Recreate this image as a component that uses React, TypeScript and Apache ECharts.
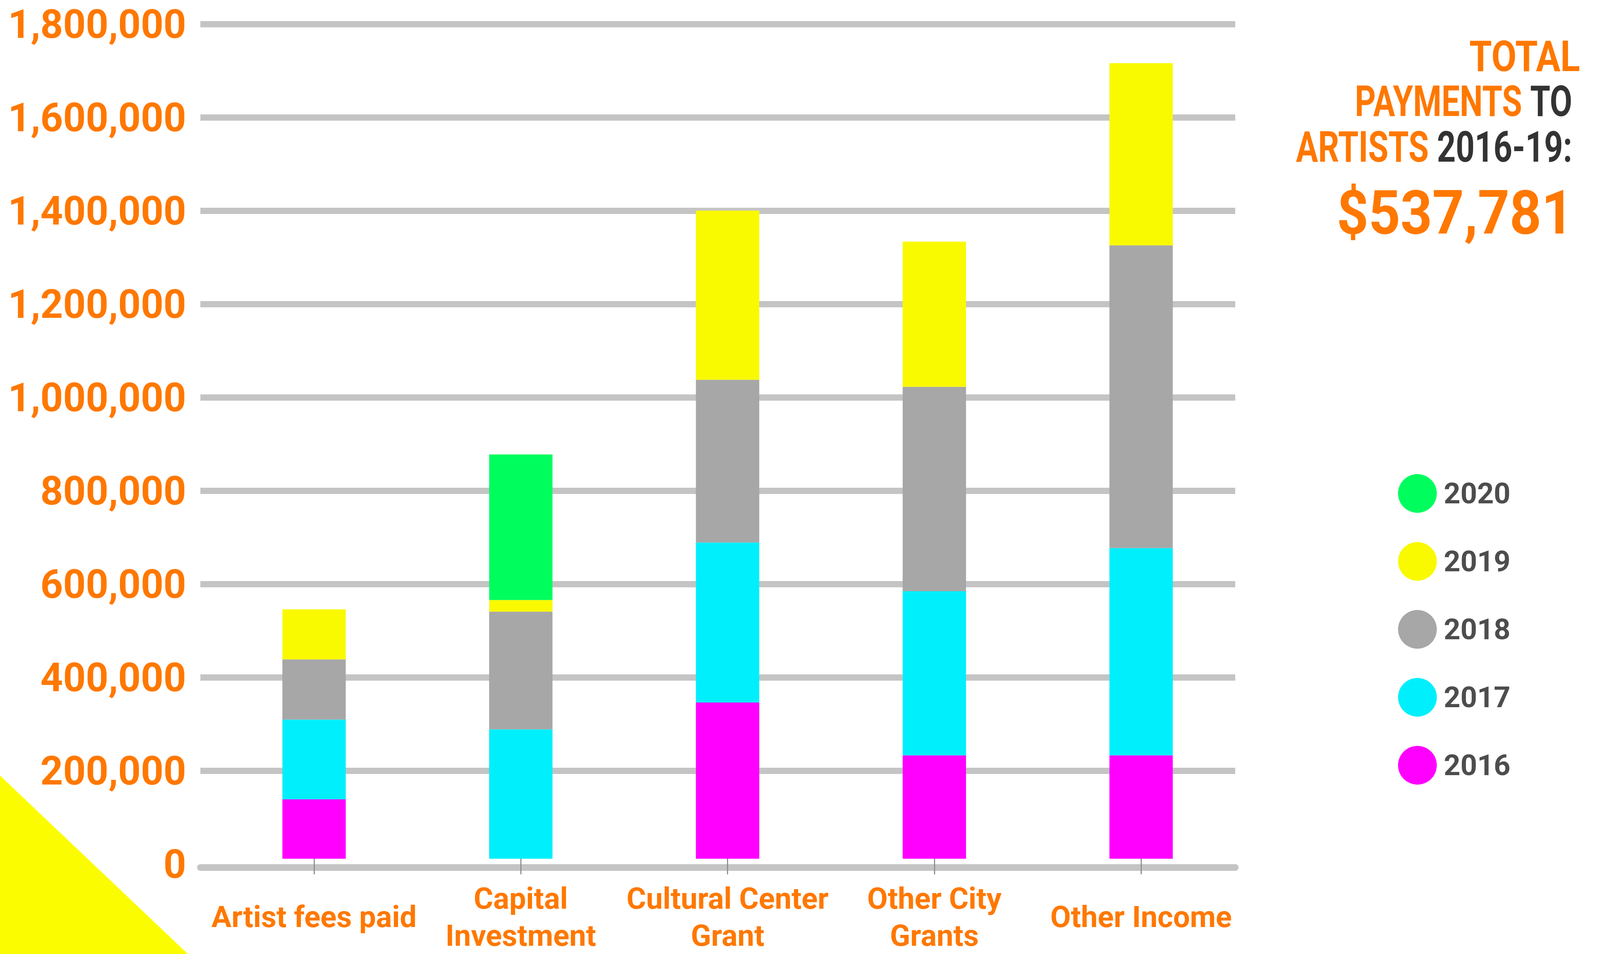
import React, { useEffect, useRef } from 'react';
import * as echarts from 'echarts';

const categories = ['Artist fees paid', 'Capital\nInvestment', 'Cultural Center\nGrant', 'Other City\nGrants', 'Other Income'];
const years = ['2016', '2017', '2018', '2019', '2020'];
const v2016 = [128000, 0, 337000, 223000, 223000];
const v2017 = [172000, 279000, 345000, 354000, 447000];
const v2018 = [130000, 254000, 351000, 441000, 653000];
const v2019 = [107781, 25000, 365000, 313000, 393000];
const v2020 = [0, 314000, 0, 0, 0];
const seriesValues = [v2016, v2017, v2018, v2019, v2020];
const yearColors = ['#ff00ff', '#00effc', '#a7a7a7', '#f9f900', '#00fd5e'];
const yMin = 0;
const yMax = 1800000;
const yInterval = 200000;
const legendOrder = ['2020', '2019', '2018', '2017', '2016'];
const totalLabel = '$537,781';

export default function App() {
  const ref = useRef<HTMLDivElement>(null);
  useEffect(() => {
    if (!ref.current) return;
    const chart = echarts.init(ref.current, null, { renderer: 'svg' });
    const W = chart.getWidth();
    const H = chart.getHeight();
    const sx = W / 4496;
    const sy = H / 2443;
    const fs = Math.sqrt(sx * sy);
    const X = (v: number) => v * sx;
    const Y = (v: number) => v * sy;
    const F = (v: number) => v * fs;
    const k = sx / sy;
    const orange = '#ff7800';
    const dark = '#333333';
    const font = 'Roboto';
    const option = {
      animation: false,
      backgroundColor: '#ffffff',
      grid: [
        { left: X(592), top: Y(62), width: X(2905), height: Y(2151) },
        { left: X(563), top: Y(62), width: X(2908), height: Y(2151) },
      ],
      xAxis: [
        {
          type: 'category', gridIndex: 0, data: categories, offset: Y(8), z: 10,
          axisLine: { show: false },
          axisTick: { show: true, alignWithLabel: true, length: Y(40), lineStyle: { color: '#8c8c8c', width: F(3) } },
          axisLabel: {
            interval: 0, margin: Y(141), color: orange, fontFamily: font, fontWeight: 'bold',
            fontSize: F(80), lineHeight: Y(95), verticalAlign: 'middle',
          },
          splitLine: { show: false },
        },
        {
          type: 'value', gridIndex: 1, min: 0, max: 1, offset: Y(8), z: 10, position: 'bottom',
          axisLine: { show: true, onZero: false, lineStyle: { color: '#c4c4c4', width: Y(17) } },
          axisTick: { show: false }, axisLabel: { show: false }, splitLine: { show: false },
        },
      ],
      yAxis: [
        { type: 'value', gridIndex: 0, min: yMin, max: yMax, interval: yInterval, show: false, splitLine: { show: false } },
        {
          type: 'value', gridIndex: 1, min: yMin, max: yMax, interval: yInterval,
          axisLine: { show: false }, axisTick: { show: false },
          axisLabel: {
            margin: X(40), color: orange, fontFamily: font, fontWeight: 'bold', fontSize: F(106),
            formatter: (v: number) => v.toLocaleString('en-US'),
          },
          splitLine: { show: true, showMinLine: false, lineStyle: { color: '#c4c4c4', width: Y(16) } },
        },
      ],
      legend: {
        data: legendOrder, orient: 'vertical', left: X(3923), top: Y(1209),
        itemWidth: F(104), itemHeight: F(104), itemGap: Y(174) - F(104), icon: 'circle', selectedMode: false,
        textStyle: { color: '#4d4d4d', fontFamily: font, fontWeight: 'bold', fontSize: F(78), padding: [0, 0, 0, X(14)] },
      },
      series: years.map((y, i) => ({
        name: y, type: 'bar', stack: 'total', xAxisIndex: 0, yAxisIndex: 0,
        barWidth: X(178), data: seriesValues[i], itemStyle: { color: yearColors[i] },
      })),
      graphic: [
        { type: 'polygon', shape: { points: [[0, Y(1986)], [X(528), H], [0, H]] }, style: { fill: '#fcfc00' }, z: 0 },
        {
          type: 'text', x: X(4440), y: Y(144), scaleX: 0.93 * k,
          style: { text: 'TOTAL', fill: orange, fontFamily: font, fontWeight: 'bold', fontSize: Y(110), align: 'right', verticalAlign: 'middle' },
        },
        {
          type: 'text', x: X(4418), y: Y(260), scaleX: 0.83 * k,
          style: {
            text: '{o|PAYMENTS} {d|TO}', fill: orange, fontFamily: font, fontWeight: 'bold', fontSize: Y(110), align: 'right', verticalAlign: 'middle',
            rich: {
              o: { fill: orange, fontFamily: font, fontWeight: 'bold', fontSize: Y(110) },
              d: { fill: dark, fontFamily: font, fontWeight: 'bold', fontSize: Y(110) },
            },
          },
        },
        {
          type: 'text', x: X(4418), y: Y(376), scaleX: 0.84 * k,
          style: {
            text: '{o|ARTISTS} {d|2016-19:}', fill: orange, fontFamily: font, fontWeight: 'bold', fontSize: Y(110), align: 'right', verticalAlign: 'middle',
            rich: {
              o: { fill: orange, fontFamily: font, fontWeight: 'bold', fontSize: Y(110) },
              d: { fill: dark, fontFamily: font, fontWeight: 'bold', fontSize: Y(110) },
            },
          },
        },
        {
          type: 'text', x: X(4421), y: Y(545), scaleX: k,
          style: { text: totalLabel, fill: orange, fontFamily: font, fontWeight: 'bold', fontSize: Y(156), align: 'right', verticalAlign: 'middle' },
        },
      ],
    };
    chart.setOption(option as any);
    return () => chart.dispose();
  }, []);
  return <div ref={ref} style={{ position: 'fixed', left: 0, top: 0, width: '100vw', height: '100vh' }} />;
}
